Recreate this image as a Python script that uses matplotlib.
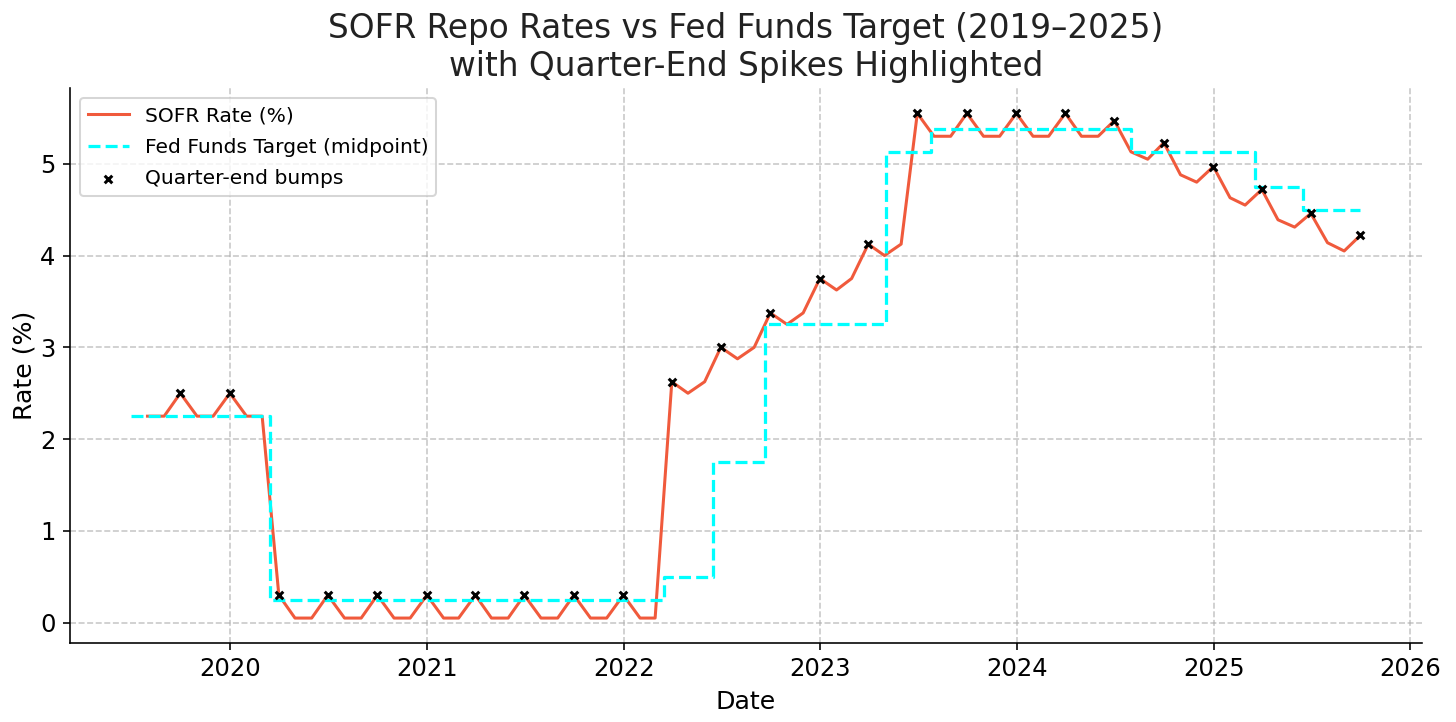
import matplotlib
matplotlib.use("Agg")
import matplotlib.pyplot as plt
import pandas as pd

# SOFR monthly (month-end) values
sofr_dates = pd.date_range("2019-07-31", "2025-09-30", freq="ME")
sofr_2019 = [2.25, 2.25, 2.50, 2.25, 2.25, 2.50]
sofr_2020 = [2.25, 2.25, 0.30, 0.05, 0.05, 0.30, 0.05, 0.05, 0.30, 0.05, 0.05, 0.30]
sofr_2021 = [0.05, 0.05, 0.30, 0.05, 0.05, 0.30, 0.05, 0.05, 0.30, 0.05, 0.05, 0.30]
sofr_2022 = [0.05, 0.05, 2.625, 2.50, 2.625, 3.00, 2.875, 3.00, 3.375, 3.25, 3.375, 3.75]
sofr_2023 = [3.625, 3.75, 4.125, 4.00, 4.125, 5.55, 5.30, 5.30, 5.55, 5.30, 5.30, 5.55]
sofr_2024 = [5.30, 5.30, 5.55, 5.30, 5.30, 5.47, 5.13, 5.05, 5.23, 4.88, 4.80, 4.97]
sofr_2025 = [4.63, 4.55, 4.72, 4.39, 4.31, 4.46, 4.14, 4.05, 4.22]
sofr_values = sofr_2019 + sofr_2020 + sofr_2021 + sofr_2022 + sofr_2023 + sofr_2024 + sofr_2025

# Fed funds target midpoint (step changes)
fed_dates = pd.to_datetime([
    "2019-07-01", "2020-03-15", "2022-03-16", "2022-06-15", "2022-09-21",
    "2023-05-03", "2023-07-26", "2024-07-31", "2025-03-19", "2025-06-15", "2025-09-30",
])
fed_values = [2.25, 0.25, 0.50, 1.75, 3.25, 5.125, 5.375, 5.125, 4.75, 4.50, 4.50]

sofr = pd.Series(sofr_values, index=sofr_dates)
quarter_end = sofr[sofr.index.month.isin([3, 6, 9, 12])]

fig = plt.figure(figsize=(10, 722 / 145.6), dpi=145.6)
ax = fig.add_axes([0.048, 0.109, 0.9285, 0.769])

ax.plot(sofr.index, sofr.values, color="#F05A3C", lw=1.5, label="SOFR Rate (%)")
ax.step(fed_dates, fed_values, where="post", color="cyan", lw=1.6, linestyle="--",
        label="Fed Funds Target (midpoint)")
ax.scatter(quarter_end.index, quarter_end.values, marker="x", color="black", s=14,
           linewidths=1.5, zorder=5, label="Quarter-end bumps")

ax.set_title("SOFR Repo Rates vs Fed Funds Target (2019\u20132025)\nwith Quarter-End Spikes Highlighted",
             fontsize=16.2, color="#222222")
ax.set_xlabel("Date", fontsize=12.5)
ax.set_ylabel("Rate (%)", fontsize=12.5, labelpad=2)
ax.tick_params(labelsize=12)
ax.grid(True, linestyle="--", alpha=0.7)
ax.spines["top"].set_visible(False)
ax.spines["right"].set_visible(False)
ax.legend(loc="upper left", fontsize=10, labelspacing=0.62)

fig.savefig("out.png", dpi=145.6)
